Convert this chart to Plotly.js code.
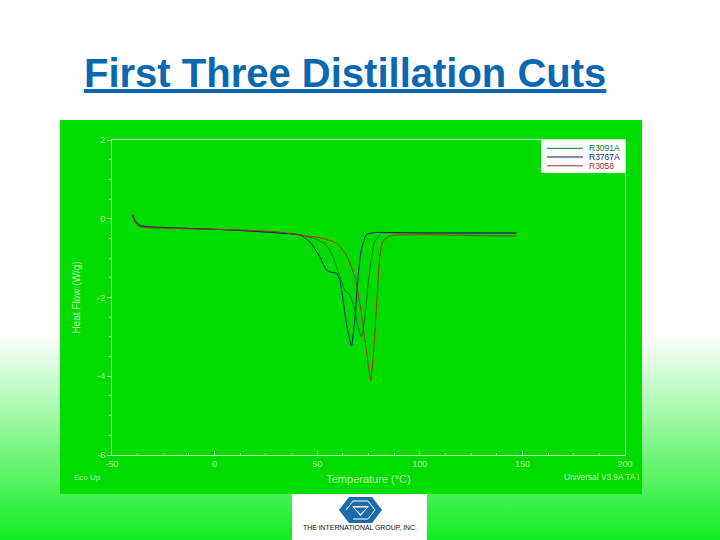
<!DOCTYPE html>
<html>
<head>
<meta charset="utf-8">
<script src="https://cdn.plot.ly/plotly-3.0.1.min.js"></script>
<style>
html,body{margin:0;padding:0;width:720px;height:540px;overflow:hidden;
background:linear-gradient(to bottom,#ffffff 0,#ffffff 335px,#10ee20 540px);}
#chart{width:720px;height:540px;}
</style>
</head>
<body>
<div id="chart"></div>
<script>
const chartTitle = "First Three Distillation Cuts";
const seriesNames = ["R3091A", "R3767A", "R3058"];
const seriesColors = ["#0b7a2a", "#0a1f6e", "#b02a1a"];

const tempGreen = [-40,-39,-38,-36,-33,-25,-10,10,30,41.5,49.6,54.5,57.7,61,63.4,65.9,68.3,69.9,71.5,73.2,75.6,78,81.3,85,100,120,147];
const flowGreen = [0.1,-0.03,-0.12,-0.19,-0.21,-0.23,-0.25,-0.29,-0.35,-0.41,-0.52,-0.67,-0.96,-1.47,-1.81,-1.93,-2.31,-2.74,-3.0,-2.48,-1.3,-0.58,-0.37,-0.36,-0.36,-0.37,-0.37];

const tempNavy = [-40,-39,-38,-36,-33,-25,-10,10,30,41.5,46.3,51.2,54.5,56.9,59.4,61,62.6,64.2,66.7,68.3,69.9,71.5,73.9,78,85,100,120,147];
const flowNavy = [0.1,-0.02,-0.1,-0.17,-0.2,-0.22,-0.25,-0.29,-0.36,-0.41,-0.58,-0.96,-1.3,-1.36,-1.38,-1.55,-2.06,-2.65,-3.23,-2.57,-1.47,-0.79,-0.41,-0.35,-0.35,-0.36,-0.36,-0.36];

const tempRed = [-40,-39,-38,-36,-33,-25,-10,10,30,41.5,52.8,59.4,64.2,68.3,71.5,73.9,76.1,78,80.5,82,85.4,95,110,130,147];
const flowRed = [0.08,-0.06,-0.14,-0.21,-0.23,-0.24,-0.26,-0.28,-0.33,-0.41,-0.5,-0.62,-0.92,-1.47,-2.4,-3.33,-4.11,-2.99,-0.96,-0.58,-0.43,-0.41,-0.41,-0.43,-0.44];

const xTicks = [-50,0,50,100,150,200];
const yTicks = [-6,-4,-2,0,2];

const W = 720, H = 540;
const fx = p => p / W;
const fy = p => 1 - p / H;
const panelFill = "#00dc00";
const axisCol = "#b9f7a8";

function pathFrom(pts, close){
  return pts.map((p,i)=>(i?"L":"M")+fx(p[0]).toFixed(5)+" "+fy(p[1]).toFixed(5)).join(" ")+(close?" Z":"");
}
function paperRect(x0,y0,x1,y1,fill,layer){
  return {type:"rect",xref:"paper",yref:"paper",x0:fx(x0),x1:fx(x1),y0:fy(y1),y1:fy(y0),
          fillcolor:fill,line:{width:0},layer:layer||"below"};
}
function paperPath(pts,fill,lineCol,lw){
  return {type:"path",xref:"paper",yref:"paper",path:pathFrom(pts,!!fill),
          fillcolor:fill||"rgba(0,0,0,0)",line:{color:lineCol||fill,width:lw||0},layer:"above"};
}
function note(text,x,y,size,color,anchor,extra){
  return Object.assign({text:text,xref:"paper",yref:"paper",x:fx(x),y:fy(y),showarrow:false,
    xanchor:anchor||"left",yanchor:"middle",
    font:{family:"Liberation Sans, Arial, sans-serif",size:size,color:color}},extra||{});
}

const traces = [[tempGreen,flowGreen],[tempNavy,flowNavy],[tempRed,flowRed]].map((d,i)=>({
  x:d[0],y:d[1],type:"scatter",mode:"lines",name:seriesNames[i],
  line:{color:seriesColors[i],width:1,shape:"spline",smoothing:0.5}
}));

const legendRows = [148.3,157,165.8];
const logoBlue = "#1c6ba8";
const layout = {
  width:W,height:H,margin:{l:0,r:0,t:0,b:0},showlegend:false,
  paper_bgcolor:"rgba(0,0,0,0)",plot_bgcolor:"rgba(0,0,0,0)",
  font:{family:"Liberation Sans, Arial, sans-serif"},
  xaxis:{domain:[fx(112),fx(625)],range:[-50,200],tickvals:xTicks,ticktext:xTicks.map(String),
    ticks:"inside",ticklen:4,tickcolor:axisCol,tickwidth:1,
    minor:{dtick:12.5,ticks:"inside",ticklen:2,tickcolor:axisCol,tickwidth:1,showgrid:false},
    showgrid:false,zeroline:false,showline:true,linecolor:axisCol,linewidth:1,mirror:true,
    tickfont:{size:9,color:axisCol},
    title:{text:"Temperature (°C)",font:{size:11,color:axisCol},standoff:7}},
  yaxis:{domain:[fy(455),fy(140)],range:[-6,2],tickvals:yTicks,ticktext:yTicks.map(v=>v<0?"-"+Math.abs(v):String(v)),
    ticks:"outside",ticklen:4,tickcolor:axisCol,tickwidth:1,
    minor:{dtick:0.5,ticks:"outside",ticklen:2,tickcolor:axisCol,tickwidth:1,showgrid:false},
    showgrid:false,zeroline:false,showline:true,linecolor:axisCol,linewidth:1,mirror:true,
    tickfont:{size:9,color:axisCol},
    title:{text:"Heat Flow (W/g)",font:{size:10,color:axisCol},standoff:14}},
  shapes:[
    paperRect(60,120,642,494,panelFill),
    paperRect(292,494,427,540,"#ffffff"),
    paperRect(541,140,625,173,"#ffffff","above"),
    paperPath([[547,legendRows[0]],[583,legendRows[0]]],null,seriesColors[0],1),
    paperPath([[547,legendRows[1]],[583,legendRows[1]]],null,seriesColors[1],1),
    paperPath([[547,legendRows[2]],[583,legendRows[2]]],null,seriesColors[2],1),
    paperPath([[339,510],[349,497],[372,497],[382,510],[372,523],[349,523]],logoBlue),
    paperPath([[346,510],[353,501],[368,501],[375,510],[368,519],[353,519]],null,"#ffffff",1),
    paperPath([[352,506],[369,506],[360.5,516]],"#ffffff"),
    paperPath([[354,507.5],[367,507.5],[360.5,514]],logoBlue)
  ],
  annotations:[
    {text:chartTitle,xref:"paper",yref:"paper",x:fx(345),y:fy(73),showarrow:false,xanchor:"center",yanchor:"middle",
     font:{family:"Liberation Sans, Arial, sans-serif",size:40,weight:700,color:"#0a68b0",lineposition:"under"}},
    note(seriesNames[0],587,legendRows[0],8.5,seriesColors[0]),
    note(seriesNames[1],587,legendRows[1],8.5,seriesColors[1]),
    note(seriesNames[2],587,legendRows[2],8.5,seriesColors[2]),
    note("Eco Up",72,477,8,axisCol),
    note("Universal V3.9A TA I",562,477,8.3,axisCol),
    note("THE INTERNATIONAL GROUP, INC.",360,527,6.9,"#111111","center")
  ]
};
Plotly.newPlot("chart",traces,layout,{displayModeBar:false,staticPlot:true});
</script>
</body>
</html>
